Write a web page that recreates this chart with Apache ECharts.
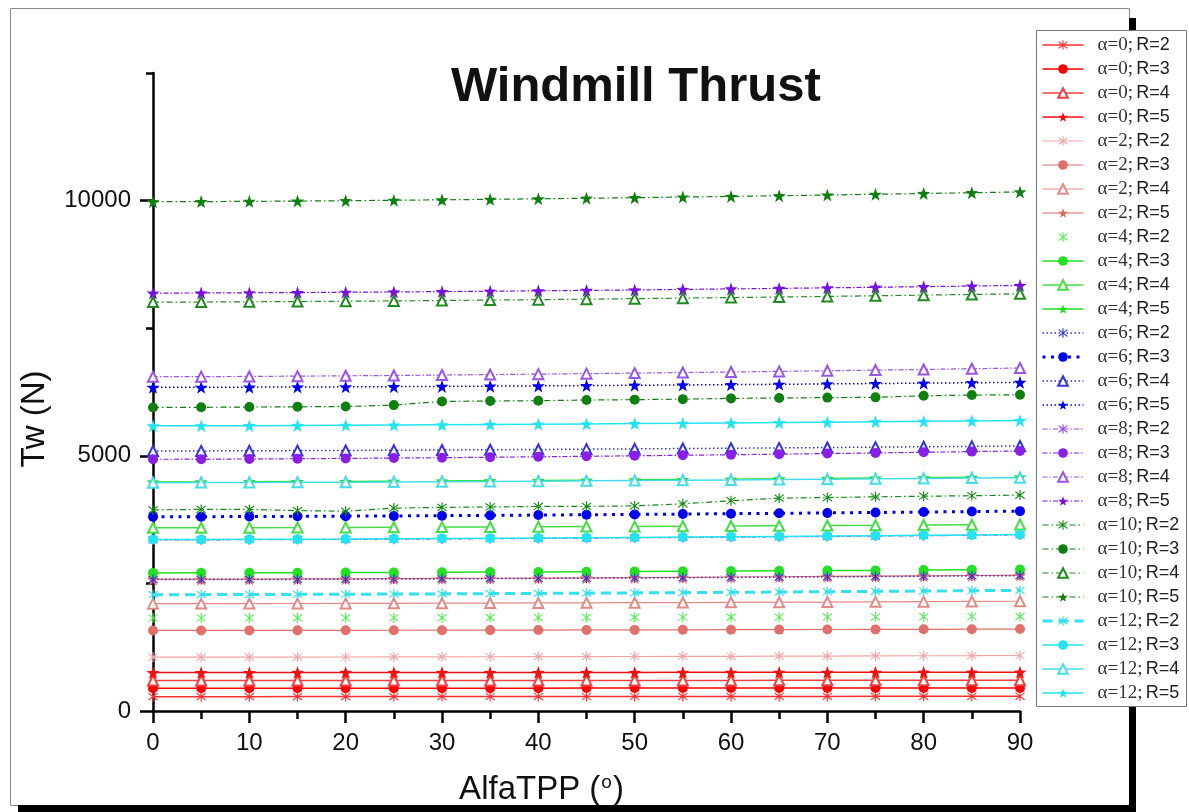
<!DOCTYPE html>
<html><head><meta charset="utf-8">
<script src="https://cdn.jsdelivr.net/npm/echarts@6/dist/echarts.min.js"></script>
<style>html,body{margin:0;padding:0;background:#fff}#c{width:1189px;height:812px}</style>
</head><body><div id="c"></div>
<script>
// ---------- data ----------
const alfaTPP = [0,5,10,15,20,25,30,35,40,45,50,55,60,65,70,75,80,85,90];
const xTickLabels = [0,10,20,30,40,50,60,70,80,90];
const yTickLabels = [0,5000,10000];

const a0R2 = [281,281,281,282,282,282,283,283,283,284,284,285,285,286,286,287,287,288,288];
const a0R3 = [446,446,446,447,447,447,448,448,448,449,449,449,450,450,450,451,451,452,452];
const a0R4 = [596,596,596,597,597,597,598,598,598,599,599,600,600,601,601,602,602,603,603];
const a0R5 = [753,753,753,754,754,754,755,755,755,756,756,757,757,758,758,759,759,760,760];
const a2R2 = [1055,1055,1056,1057,1058,1060,1061,1063,1065,1066,1068,1070,1072,1075,1077,1079,1082,1084,1087];
const a2R3 = [1578,1578,1579,1580,1581,1582,1583,1585,1586,1588,1589,1591,1593,1595,1597,1599,1601,1603,1605];
const a2R4 = [2103,2104,2105,2106,2108,2110,2112,2114,2117,2120,2122,2125,2129,2132,2135,2139,2142,2146,2150];
const a2R5 = [2582,2583,2585,2587,2590,2594,2597,2601,2605,2610,2615,2620,2625,2630,2636,2642,2648,2655,2661];
const a4R2 = [1822,1822,1823,1824,1825,1827,1828,1830,1831,1833,1835,1837,1839,1841,1843,1846,1848,1851,1853];
const a4R3 = [2706,2707,2708,2710,2713,2716,2719,2722,2725,2729,2733,2737,2741,2746,2751,2755,2761,2766,2771];
const a4R4 = [3590,3591,3592,3594,3597,3600,3603,3606,3609,3613,3617,3621,3625,3630,3635,3639,3645,3650,3655];
const a4R5 = [4488,4489,4492,4495,4498,4502,4507,4512,4517,4523,4529,4535,4541,4548,4555,4563,4570,4578,4586];
const a6R2 = [2574,2575,2577,2579,2582,2586,2589,2593,2597,2602,2607,2612,2617,2622,2628,2634,2640,2647,2653];
const a6R3 = [3806,3807,3810,3814,3818,3822,3827,3833,3839,3845,3852,3858,3866,3873,3881,3890,3898,3907,3916];
const a6R4 = [5095,5096,5099,5102,5105,5109,5114,5119,5124,5130,5136,5142,5148,5155,5162,5170,5177,5185,5193];
const a6R5 = [6341,6342,6345,6348,6351,6355,6360,6365,6370,6376,6382,6388,6394,6401,6408,6416,6423,6431,6439];
const a8R2 = [3352,3353,3356,3359,3362,3366,3371,3376,3381,3387,3393,3399,3405,3412,3419,3427,3434,3442,3450];
const a8R3 = [4932,4934,4938,4943,4949,4956,4963,4972,4980,4990,5000,5010,5021,5032,5044,5056,5069,5082,5095];
const a8R4 = [6549,6551,6555,6561,6567,6574,6582,6591,6600,6610,6620,6631,6642,6654,6666,6679,6692,6706,6720];
const a8R5 = [8188,8190,8194,8198,8204,8210,8217,8225,8232,8241,8250,8260,8270,8280,8291,8302,8314,8326,8338];
const a10R2 = [3940,3950,3950,3925,3915,3975,3990,3998,4008,4010,4018,4060,4120,4170,4182,4196,4208,4218,4230];
const a10R3 = [5948,5950,5955,5960,5965,5993,6066,6072,6080,6092,6100,6110,6125,6132,6140,6145,6176,6190,6196];
const a10R4 = [8011,8013,8017,8022,8028,8035,8042,8051,8059,8069,8079,8089,8100,8111,8123,8135,8148,8161,8174];
const a10R5 = [9978,9980,9985,9991,9998,10006,10015,10025,10035,10046,10057,10070,10082,10096,10109,10124,10139,10154,10170];
const a12R2 = [2279,2280,2282,2285,2288,2291,2295,2300,2304,2309,2314,2320,2325,2331,2337,2344,2350,2357,2364];
const a12R3 = [3360,3361,3364,3367,3370,3374,3379,3384,3389,3395,3401,3407,3413,3420,3427,3435,3442,3450,3458];
const a12R4 = [4474,4475,4478,4481,4484,4488,4493,4498,4503,4509,4515,4521,4527,4534,4541,4549,4556,4564,4572];
const a12R5 = [5587,5588,5591,5594,5598,5602,5607,5613,5618,5624,5631,5637,5644,5651,5659,5667,5675,5683,5692];

// ---------- styles ----------
const STAR = 'path://M0,-10L2.35,-3.24L9.51,-3.09L3.8,1.24L5.88,8.09L0,4L-5.88,8.09L-3.8,1.24L-9.51,-3.09L-2.35,-3.24Z';
const AST = 'path://M-0.9,-10L0.9,-10L0.9,10L-0.9,10Z M-7.7,-6.4L-6.4,-7.7L7.7,6.4L6.4,7.7Z M6.4,-7.7L7.7,-6.4L-6.4,7.7L-7.7,6.4Z';
const SYM = {2:[AST,10], 3:['circle',10], 4:['emptyTriangle',10], 5:[STAR,13]};

const DASH4 = [48.17,48.17];
const DOT = [1.5,2.5];
const DASHDOT8 = [5,2,1.5,2];
const DASHDOT10 = [6,3,1.5,3];

const defs = [
  ['α=0; R=2', a0R2, 2, '#ff3030', 1.5, 'solid'],
  ['α=0; R=3', a0R3, 3, '#ff0000', 1.5, 'solid'],
  ['α=0; R=4', a0R4, 4, '#f04040', 1.5, 'solid'],
  ['α=0; R=5', a0R5, 5, '#ee1111', 1.5, 'solid'],
  ['α=2; R=2', a2R2, 2, '#f2a4a4', 1.2, 'solid'],
  ['α=2; R=3', a2R3, 3, '#e0706a', 1.2, 'solid'],
  ['α=2; R=4', a2R4, 4, '#e48a84', 1.2, 'solid'],
  ['α=2; R=5', a2R5, 5, '#e06a64', 1.2, 'solid'],
  ['α=4; R=2', a4R2, 2, '#55ee55', 0, 'solid'],
  ['α=4; R=3', a4R3, 3, '#22e022', 1.5, DASH4],
  ['α=4; R=4', a4R4, 4, '#44dd44', 1.5, DASH4],
  ['α=4; R=5', a4R5, 5, '#22dd22', 1.5, DASH4],
  ['α=6; R=2', a6R2, 2, '#3333dd', 1.5, DOT],
  ['α=6; R=3', a6R3, 3, '#0000ee', 3, [3,5.5]],
  ['α=6; R=4', a6R4, 4, '#3333dd', 1.5, DOT],
  ['α=6; R=5', a6R5, 5, '#0000ee', 1.5, DOT],
  ['α=8; R=2', a8R2, 2, '#9944ee', 1.2, DASHDOT8],
  ['α=8; R=3', a8R3, 3, '#8a1ee6', 1.2, DASHDOT8],
  ['α=8; R=4', a8R4, 4, '#9955e8', 1.2, DASHDOT8],
  ['α=8; R=5', a8R5, 5, '#7a10e0', 1.2, DASHDOT8],
  ['α=10; R=2', a10R2, 2, '#118a11', 1.2, DASHDOT10],
  ['α=10; R=3', a10R3, 3, '#0f7f0f', 1.2, DASHDOT10],
  ['α=10; R=4', a10R4, 4, '#208a20', 1.2, DASHDOT10],
  ['α=10; R=5', a10R5, 5, '#0f7f0f', 1.2, DASHDOT10],
  ['α=12; R=2', a12R2, 2, '#33e0ee', 3, [10,6]],
  ['α=12; R=3', a12R3, 3, '#22e4f0', 1.5, 'solid'],
  ['α=12; R=4', a12R4, 4, '#44dde8', 1.5, 'solid'],
  ['α=12; R=5', a12R5, 5, '#22e4f0', 1.5, 'solid']
];

const series = defs.map(function (d) {
  const s = SYM[d[2]];
  return {
    name: d[0], type: 'line',
    data: alfaTPP.map(function (x, i) { return [x, d[1][i]]; }),
    symbol: s[0], symbolSize: s[1], showSymbol: true,
    itemStyle: { color: d[3], borderWidth: d[2] === 4 ? 1 : 0 },
    lineStyle: { color: d[3], width: d[4], type: d[5], opacity: d[4] === 0 ? 0 : 1 },
    emphasis: { disabled: true },
    clip: true, animation: false
  };
});

const chart = echarts.init(document.getElementById('c'), null, { renderer: 'canvas' });
chart.setOption({
  backgroundColor: '#ffffff',
  animation: false,
  title: {
    text: 'Windmill Thrust', left: 446, top: 58,
    textStyle: { fontFamily: 'Liberation Sans', fontSize: 49, fontWeight: 'bold', color: '#111' }
  },
  graphic: [
    { type: 'rect', z: -1, shape: { x: 10.5, y: 8.5, width: 1119, height: 797 }, style: { fill: 'none', stroke: '#8a8a8a', lineWidth: 1 } },
    { type: 'rect', z: -1, shape: { x: 1129, y: 18, width: 7, height: 794 }, style: { fill: '#000' } },
    { type: 'rect', z: -1, shape: { x: 18, y: 805, width: 1118, height: 7 }, style: { fill: '#000' } },
    { type: 'rect', z: 1, shape: { x: 1036.5, y: 30.5, width: 150, height: 676 }, style: { fill: '#fff', stroke: '#777', lineWidth: 1 } }
  ],
  legend: {
    orient: 'vertical', left: 1041, top: 35, padding: 0,
    itemWidth: 41, itemHeight: 12, itemGap: 4,
    lineStyle: { width: 'inherit', type: 'inherit' },
    selectedMode: false,
    formatter: function (name) {
      const p = name.split('; ');
      return '{a|' + p[0] + ';} {b|' + p[1] + '}';
    },
    textStyle: {
      color: '#222', lineHeight: 20,
      rich: {
        a: { fontFamily: 'Liberation Serif', fontSize: 19, color: '#333', padding: [0, 0, 0, 9] },
        b: { fontFamily: 'Liberation Sans', fontSize: 18, color: '#222' }
      }
    },
    data: defs.map(function (d) { return d[0]; })
  },
  grid: { left: 153, top: 73, right: 169, bottom: 101, containLabel: false, outerBoundsMode: 'none' },
  xAxis: {
    type: 'value', min: 0, max: 90, interval: 10,
    name: 'AlfaTPP ({s|o})', nameLocation: 'middle', nameGap: 62,
    nameTextStyle: { fontFamily: 'Liberation Sans', fontSize: 33, color: '#111', padding: [0, 90, 0, 0],
      rich: { s: { fontFamily: 'Liberation Sans', fontSize: 19, color: '#111', verticalAlign: 'top', padding: [0, 1, 12, 1] } } },
    axisLine: { show: true, lineStyle: { color: '#000', width: 2.5 } },
    axisTick: { show: true, length: 12, lineStyle: { color: '#000', width: 2.5 } },
    minorTick: { show: true, splitNumber: 2, length: 8, lineStyle: { color: '#000', width: 2.5 } },
    axisLabel: { fontFamily: 'Liberation Sans', fontSize: 24, color: '#111', margin: 20,
      customValues: xTickLabels },
    splitLine: { show: false }, minorSplitLine: { show: false }
  },
  yAxis: [
    {
      type: 'value', min: 0, max: 12500, position: 'left',
      name: 'Tw (N)', nameLocation: 'middle', nameGap: 102, nameRotate: 90,
      nameTextStyle: { fontFamily: 'Liberation Sans', fontSize: 33, color: '#111', padding: [0, 54, 0, 0] },
      axisLine: { show: true, lineStyle: { color: '#000', width: 2.5 } },
      axisTick: { show: true, length: 13, customValues: yTickLabels, lineStyle: { color: '#000', width: 2.5 } },
      axisLabel: { fontFamily: 'Liberation Sans', fontSize: 24, color: '#111', margin: 22, customValues: yTickLabels,
        formatter: function (v) { return String(v); } },
      splitLine: { show: false }
    },
    {
      type: 'value', min: 0, max: 12500, position: 'left',
      axisLine: { show: false },
      axisTick: { show: true, length: 7, customValues: [2500, 7500, 12500], lineStyle: { color: '#000', width: 2.5 } },
      axisLabel: { show: false },
      splitLine: { show: false }
    }
  ],
  series: series
});
</script>
</body></html>
